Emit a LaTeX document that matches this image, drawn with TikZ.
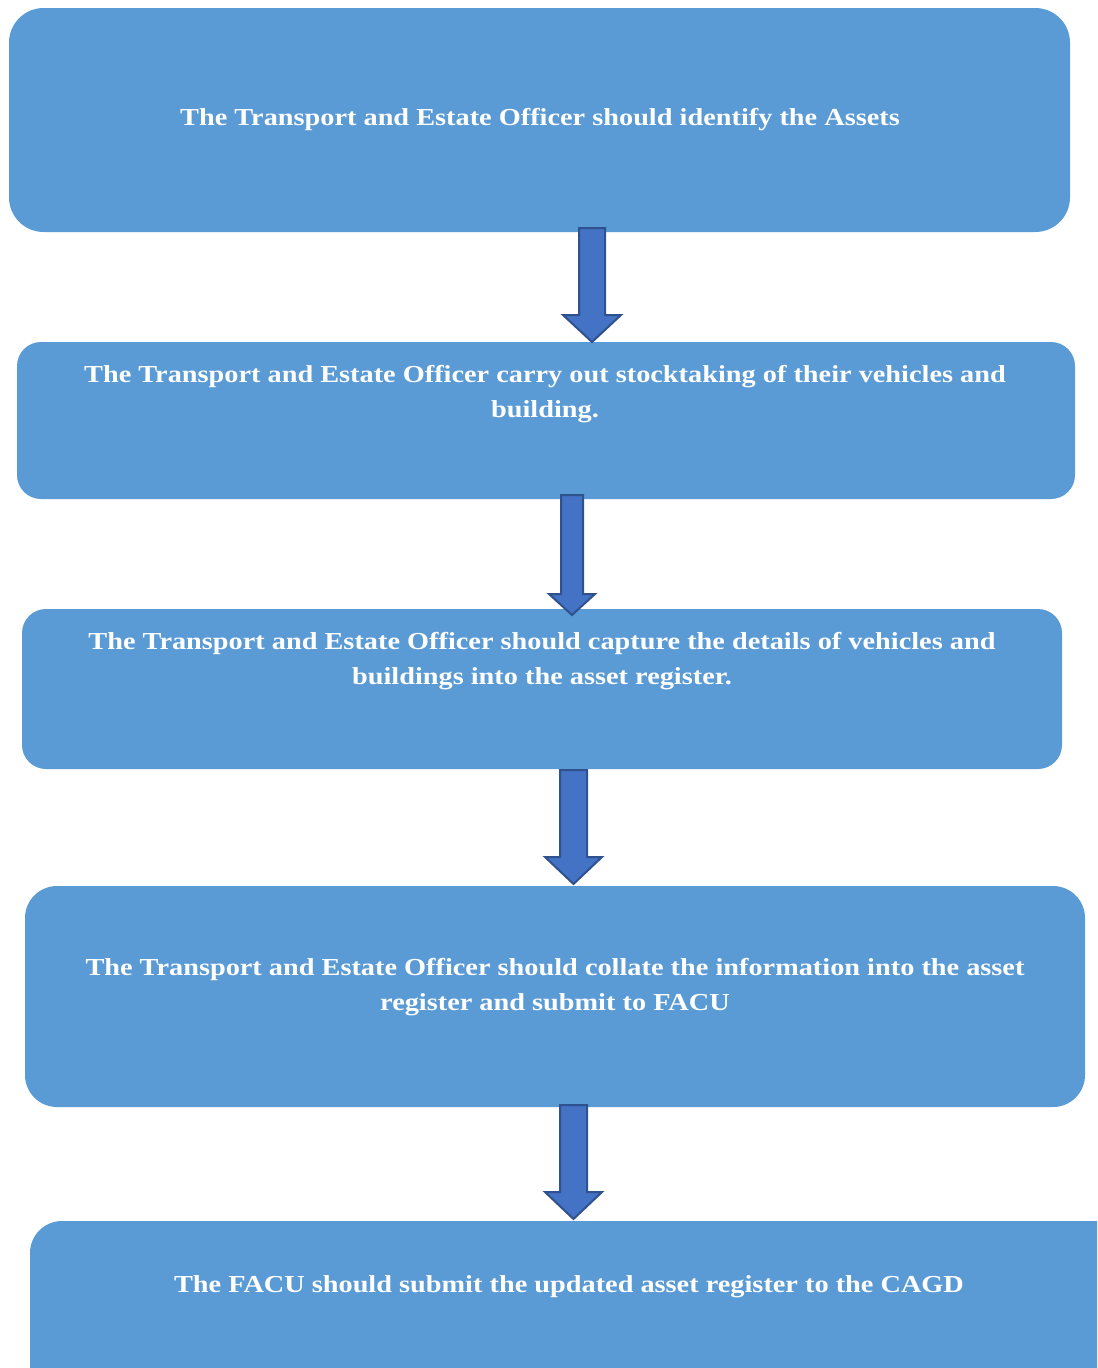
\documentclass[tikz,border=0pt]{standalone}
\usepackage{fontspec}
\setmainfont{Liberation Serif}[FakeStretch=1.16]
\definecolor{boxblue}{HTML}{5B9BD5}
\definecolor{arrowfill}{HTML}{4472C4}
\definecolor{arrowedge}{HTML}{2F528F}
\tikzset{
  stepbox/.style={fill=boxblue, draw=none},
  steptext/.style={text=white, font=\fontsize{18.3}{26.25}\selectfont\bfseries, align=center, inner sep=0pt},
  blockarrow/.style={fill=arrowfill, draw=arrowedge, line width=1.5pt, line join=miter}
}
% #1 x center, #2 top y, #3 shaft bottom y, #4 tip y, #5 shaft half width, #6 head half width
\newcommand\mkarrow[6]{%
  \draw[blockarrow] (#1-#5,#2) -- (#1+#5,#2) -- (#1+#5,#3) -- (#1+#6,#3) -- (#1,#4)
    -- (#1-#6,#3) -- (#1-#5,#3) -- cycle;}
\begin{document}
\begin{tikzpicture}[x=0.75pt,y=-0.75pt]
\useasboundingbox (0,0) rectangle (1097,1368);
\clip (0,0) rectangle (1097,1368);
\fill[white] (0,0) rectangle (1097,1368);
% boxes
\path[stepbox, rounded corners=26pt] (9,8) rectangle (1070,232);
\node[coordinate] (b1) at (539.5,120) {};
\path[stepbox, rounded corners=18pt] (17,342) rectangle (1075,499);
\node[coordinate] (b2) at (546,420) {};
\path[stepbox, rounded corners=18pt] (22,609) rectangle (1062,769);
\node[coordinate] (b3) at (542,689) {};
\path[stepbox, rounded corners=24pt] (25,886) rectangle (1085,1107);
\node[coordinate] (b4) at (555,996) {};
\path[stepbox, rounded corners=24pt] (30,1221) rectangle (1140,1420);
\node[coordinate] (b5) at (585,1320) {};
% arrows
\mkarrow{592}{228}{315}{342}{13}{29}
\mkarrow{572}{495}{594}{615}{11}{23}
\mkarrow{573.5}{770}{857}{884}{13.5}{28.5}
\mkarrow{573.5}{1105}{1192}{1219}{13.5}{28.5}
% texts
\node[steptext] (t1) at (540,120) {The Transport and Estate Officer should identify the Assets};
\node[steptext] (t2) at (545,394) {The Transport and Estate Officer carry out stocktaking of their vehicles and\\building.};
\node[steptext] (t3) at (542,661) {The Transport and Estate Officer should capture the details of vehicles and\\buildings into the asset register.};
\node[steptext] (t4) at (555,987) {The Transport and Estate Officer should collate the information into the asset\\register and submit to FACU};
\node[steptext] (t5) at (569,1287) {The FACU should submit the updated asset register to the CAGD};
\end{tikzpicture}
\end{document}
